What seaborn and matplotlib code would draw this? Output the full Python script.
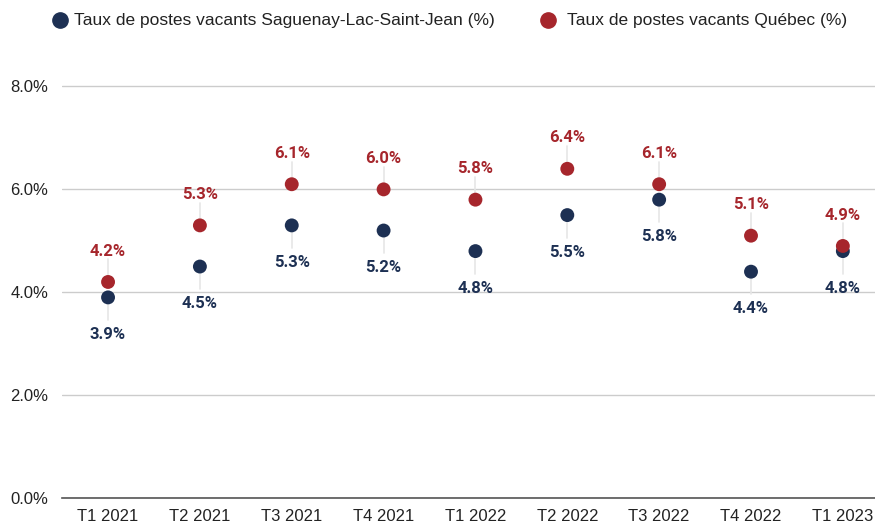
import pandas as pd
import numpy as np
import seaborn as sns
import matplotlib.pyplot as plt
import matplotlib.ticker as ticker
from matplotlib.lines import Line2D

quarters = ["T1 2021", "T2 2021", "T3 2021", "T4 2021", "T1 2022",
            "T2 2022", "T3 2022", "T4 2022", "T1 2023"]
saguenay = [3.9, 4.5, 5.3, 5.2, 4.8, 5.5, 5.8, 4.4, 4.8]
quebec = [4.2, 5.3, 6.1, 6.0, 5.8, 6.4, 6.1, 5.1, 4.9]

lbl_sag = "Taux de postes vacants Saguenay-Lac-Saint-Jean (%)"
lbl_qc = "Taux de postes vacants Québec (%)"
navy = "#1d3053"
red = "#a6262c"

df = pd.DataFrame({"Trimestre": quarters, lbl_sag: saguenay, lbl_qc: quebec})
long = df.melt(id_vars="Trimestre", var_name="Serie", value_name="Taux")

sns.set_theme(style="white")
plt.rcParams["font.family"] = ["Liberation Sans", "DejaVu Sans"]

fig = plt.figure(figsize=(8.75, 5.25), dpi=100)
ax = fig.add_axes([0.071, 0.0514, 0.929, 0.825])

x = np.arange(len(quarters))
# leader lines between points and labels
for i in x:
    ax.plot([i, i], [quebec[i], quebec[i] + 0.44], color="#e6e6e6", lw=1.2, zorder=1)
    ax.plot([i, i], [saguenay[i], saguenay[i] - 0.44], color="#e6e6e6", lw=1.2, zorder=1)

sns.scatterplot(data=long, x="Trimestre", y="Taux", hue="Serie",
                palette={lbl_sag: navy, lbl_qc: red}, s=100, linewidth=0,
                ax=ax, legend=False, zorder=3)

for i in x:
    ax.text(i, quebec[i] + 0.6, f"{quebec[i]:.1f}%", color=red, ha="center",
            va="center", fontsize=12, fontweight="bold", family=["Roboto", "DejaVu Sans"])
    ax.text(i, saguenay[i] - 0.72, f"{saguenay[i]:.1f}%", color=navy, ha="center",
            va="center", fontsize=12, fontweight="bold", family=["Roboto", "DejaVu Sans"])

ax.set_ylim(0, 8.42)
ax.set_xlim(-0.5, 8.35)
ax.set_yticks([0, 2, 4, 6, 8])
ax.yaxis.set_major_formatter(ticker.FuncFormatter(lambda v, p: f"{v:.1f}%"))
ax.grid(axis="y", color="#cccccc", lw=1)
ax.set_axisbelow(True)
for s in ["top", "right", "left"]:
    ax.spines[s].set_visible(False)
ax.spines["bottom"].set_color("#555555")
ax.spines["bottom"].set_linewidth(1.2)
ax.set_xlabel("")
ax.set_ylabel("")
ax.tick_params(axis="both", labelsize=12, colors="#222222", length=0, pad=8)
ax.tick_params(axis="y", pad=10)

# legend drawn by hand at the top
fig.add_artist(Line2D([60 / 875], [1 - 20 / 525], marker="o", ls="", color=navy,
                      markersize=11, transform=fig.transFigure))
fig.text(74 / 875, 1 - 20 / 525, lbl_sag, fontsize=12.5, va="center", ha="left", color="#222222")
fig.add_artist(Line2D([548 / 875], [1 - 20 / 525], marker="o", ls="", color=red,
                      markersize=11, transform=fig.transFigure))
fig.text(567 / 875, 1 - 20 / 525, lbl_qc, fontsize=12.5, va="center", ha="left", color="#222222")

plt.savefig("out.png", dpi=100)
